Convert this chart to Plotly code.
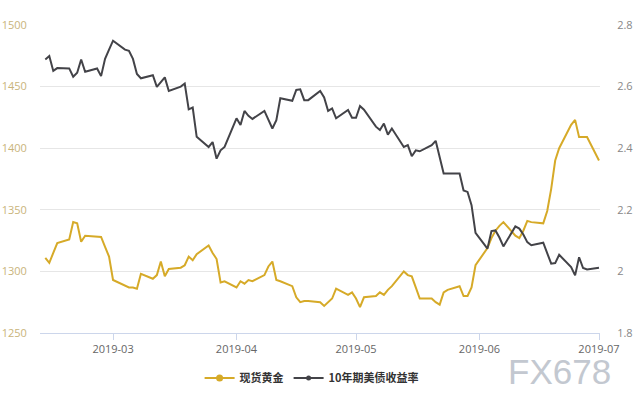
import plotly.graph_objects as go
import pandas as pd

dates = [
    "2019-02-12", "2019-02-13", "2019-02-14", "2019-02-15", "2019-02-18", "2019-02-19", "2019-02-20",
    "2019-02-21", "2019-02-22", "2019-02-25", "2019-02-26", "2019-02-27", "2019-02-28", "2019-03-01",
    "2019-03-04", "2019-03-05", "2019-03-06", "2019-03-07", "2019-03-08", "2019-03-11", "2019-03-12",
    "2019-03-13", "2019-03-14", "2019-03-15", "2019-03-18", "2019-03-19", "2019-03-20", "2019-03-21",
    "2019-03-22", "2019-03-25", "2019-03-26", "2019-03-27", "2019-03-28", "2019-03-29", "2019-04-01",
    "2019-04-02", "2019-04-03", "2019-04-04", "2019-04-05", "2019-04-08", "2019-04-09", "2019-04-10",
    "2019-04-11", "2019-04-12", "2019-04-15", "2019-04-16", "2019-04-17", "2019-04-18", "2019-04-19",
    "2019-04-22", "2019-04-23", "2019-04-24", "2019-04-25", "2019-04-26", "2019-04-29", "2019-04-30",
    "2019-05-01", "2019-05-02", "2019-05-03", "2019-05-06", "2019-05-07", "2019-05-08", "2019-05-09",
    "2019-05-10", "2019-05-13", "2019-05-14", "2019-05-15", "2019-05-16", "2019-05-17", "2019-05-20",
    "2019-05-21", "2019-05-22", "2019-05-23", "2019-05-24", "2019-05-27", "2019-05-28", "2019-05-29",
    "2019-05-30", "2019-05-31", "2019-06-03", "2019-06-04", "2019-06-05", "2019-06-06", "2019-06-07",
    "2019-06-10", "2019-06-11", "2019-06-12", "2019-06-13", "2019-06-14", "2019-06-17", "2019-06-18",
    "2019-06-19", "2019-06-20", "2019-06-21", "2019-06-24", "2019-06-25", "2019-06-26", "2019-06-27",
    "2019-06-28", "2019-07-01",
]

gold = [
    1311, 1307, 1315, 1323, 1326, 1340, 1339,
    1324, 1329, 1328, 1328, 1320, 1312, 1293,
    1288, 1287, 1287, 1286, 1298, 1294, 1297,
    1308, 1296, 1302, 1303, 1305, 1312, 1309,
    1314, 1321, 1315, 1310, 1291, 1292, 1287,
    1292, 1290, 1293, 1292, 1297, 1304, 1308,
    1293, 1292, 1288, 1279, 1275, 1276, 1276,
    1275, 1272, 1275, 1278, 1286, 1281, 1283,
    1278, 1271, 1279, 1280, 1283, 1281, 1285,
    1288, 1300, 1297, 1296, 1287, 1278, 1278,
    1275, 1273, 1283, 1285, 1288, 1280, 1280,
    1287, 1305, 1319, 1327, 1333, 1337, 1340,
    1329, 1327, 1333, 1341, 1340, 1339, 1349,
    1367, 1390, 1400, 1419, 1423, 1409, 1409,
    1409, 1390,
]

yield10 = [
    2.688, 2.699, 2.651, 2.660, 2.659, 2.632, 2.645,
    2.688, 2.648, 2.659, 2.634, 2.690, 2.720, 2.749,
    2.720, 2.716, 2.690, 2.641, 2.627, 2.637, 2.599,
    2.615, 2.630, 2.586, 2.600, 2.610, 2.526, 2.532,
    2.437, 2.404, 2.420, 2.366, 2.393, 2.404, 2.497,
    2.475, 2.521, 2.505, 2.495, 2.521, 2.490, 2.464,
    2.491, 2.562, 2.554, 2.589, 2.591, 2.556, 2.556,
    2.586, 2.565, 2.521, 2.529, 2.497, 2.524, 2.499,
    2.499, 2.537, 2.525, 2.470, 2.459, 2.480, 2.444,
    2.464, 2.404, 2.410, 2.374, 2.393, 2.390, 2.410,
    2.424, 2.375, 2.318, 2.318, 2.318, 2.263, 2.258,
    2.215, 2.125, 2.074, 2.131, 2.133, 2.110, 2.081,
    2.146, 2.139, 2.120, 2.095, 2.085, 2.093, 2.060,
    2.025, 2.027, 2.054, 2.014, 1.987, 2.046, 2.011,
    2.006, 2.012,
]

gold_name = "现货黄金"
yield_name = "10年期美债收益率"
gold_color = "#d6aa28"
yield_color = "#434348"

x = pd.to_datetime(dates)

fig = go.Figure()
fig.add_trace(go.Scatter(x=x, y=gold, mode="lines", line=dict(color=gold_color, width=2),
                         name=gold_name, showlegend=False, yaxis="y"))
fig.add_trace(go.Scatter(x=x, y=yield10, mode="lines", line=dict(color=yield_color, width=2),
                         name=yield_name, showlegend=False, yaxis="y2"))
# legend entries
fig.add_trace(go.Scatter(x=[None], y=[None], mode="lines+markers", name=gold_name,
                         line=dict(color=gold_color, width=2), marker=dict(size=7, color=gold_color)))
fig.add_trace(go.Scatter(x=[None], y=[None], mode="lines+markers", name=yield_name,
                         line=dict(color=yield_color, width=2), marker=dict(size=5, color=yield_color)))

fig.update_layout(
    width=640, height=400,
    margin=dict(l=40, r=40, t=25, b=67, autoexpand=False),
    paper_bgcolor="white", plot_bgcolor="white",
    font=dict(family="Open Sans, Noto Sans CJK SC, sans-serif", size=11, color="#666666"),
    xaxis=dict(
        type="date", automargin=False,
        range=["2019-02-10 16:00", "2019-07-01 06:00"],
        tick0="2019-03-01", dtick="M1", tickformat="%Y-%m",
        showgrid=False, showline=True, linecolor="#ccd6eb", linewidth=1,
        ticks="outside", ticklen=6, tickcolor="#ccd6eb",
        tickfont=dict(size=11, color="#666666"),
        zeroline=False,
    ),
    yaxis=dict(
        range=[1250, 1500], dtick=50, showgrid=True, gridcolor="#e6e6e6",
        zeroline=False, showline=False, automargin=False,
        ticks="outside", ticklen=10, tickcolor="rgba(0,0,0,0)",
        tickfont=dict(size=11, color="#c9b47a"),
    ),
    yaxis2=dict(
        range=[1.8, 2.8], dtick=0.2, overlaying="y", side="right",
        showgrid=False, zeroline=False, showline=False, automargin=False,
        ticks="outside", ticklen=14, tickcolor="rgba(0,0,0,0)",
        tickfont=dict(size=11, color="#888888"),
    ),
    legend=dict(
        orientation="h", x=0.485, xanchor="center", y=-0.146, yanchor="middle",
        font=dict(family="Noto Sans CJK SC, sans-serif", size=11, color="#333333", weight="bold"),
        itemwidth=30, tracegroupgap=0,
    ),
    showlegend=True,
)

fig.add_annotation(
    text="FX678", xref="paper", yref="paper", x=1.024, y=-0.125, xanchor="right", yanchor="middle",
    showarrow=False, font=dict(family="Liberation Sans, Arial, sans-serif", size=35, color="#c3c8d0"),
)

fig.write_html("out.html", config={"displayModeBar": False},
               post_script="document.body.style.margin='0';document.body.style.padding='0';")
